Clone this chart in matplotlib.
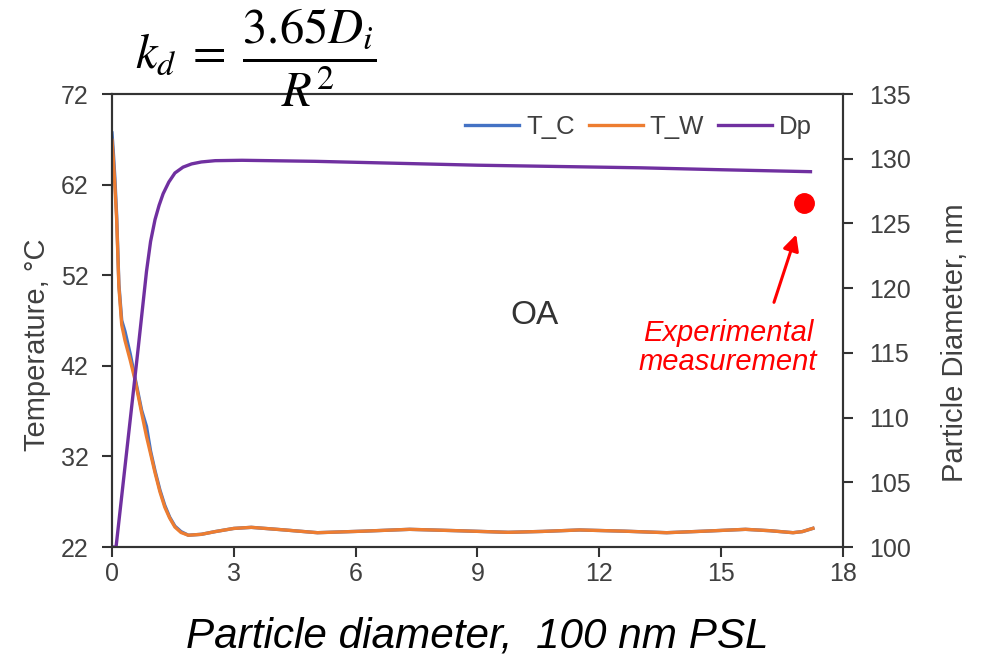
import matplotlib
matplotlib.use("Agg")
import matplotlib.pyplot as plt

# readings
t_x = [0, 0.03, 0.07, 0.115, 0.17, 0.24, 0.32, 0.45, 0.57, 0.73, 0.85, 0.95, 1.06,
       1.18, 1.3, 1.42, 1.55, 1.7, 1.88, 2.2, 2.54, 3.0, 3.43, 4.2, 5.06, 6.2, 7.33,
       8.5, 9.76, 10.6, 11.51, 12.6, 13.66, 14.6, 15.6, 16.2, 16.77, 17.0, 17.26]
t_c = [67.7, 65.8, 62.8, 58.6, 51.0, 47.0, 45.8, 43.3, 40.6, 37.1, 35.3, 32.6, 30.4,
       28.3, 26.6, 25.3, 24.3, 23.7, 23.3, 23.4, 23.7, 24.05, 24.17, 23.9, 23.58, 23.75, 23.95,
       23.8, 23.62, 23.72, 23.88, 23.75, 23.58, 23.75, 23.95, 23.8, 23.58, 23.7, 24.06]
t_w = [66.9, 65.0, 62.0, 58.1, 50.7, 46.5, 44.8, 42.6, 40.4, 36.8, 34.2, 32.3, 30.2,
       28.1, 26.4, 25.2, 24.2, 23.6, 23.3, 23.4, 23.7, 24.05, 24.17, 23.9, 23.58, 23.75, 23.95,
       23.8, 23.62, 23.72, 23.88, 23.75, 23.58, 23.75, 23.95, 23.8, 23.58, 23.7, 24.06]
dp_x = [0, 0.1, 0.65, 0.85, 0.95, 1.06, 1.16, 1.26, 1.4, 1.55, 1.75, 1.96, 2.2, 2.54,
        3.2, 5, 7, 9, 11, 13, 15, 17.2]
dp = [100, 100, 115.5, 121.3, 123.6, 125.3, 126.4, 127.3, 128.2, 128.9, 129.35, 129.6,
      129.75, 129.85, 129.88, 129.8, 129.65, 129.5, 129.4, 129.3, 129.15, 129.0]
exp_x = [17.04]
exp_dp = [126.6]

x_ticks = [0, 3, 6, 9, 12, 15, 18]
t_ticks = [22, 32, 42, 52, 62, 72]
d_ticks = [100, 105, 110, 115, 120, 125, 130, 135]

plt.rcParams["font.family"] = ["Liberation Sans", "DejaVu Sans"]
plt.rcParams["mathtext.fontset"] = "stix"
txt_col = "#404040"

fig = plt.figure(figsize=(9.99, 6.64), dpi=100)
ax = fig.add_axes([0.1121, 0.1762, 0.7317, 0.6822])
ax2 = ax.twinx()

l1, = ax.plot(t_x, t_c, color="#4472C4", lw=2.4, label="T_C")
l2, = ax.plot(t_x, t_w, color="#ED7D31", lw=2.4, label="T_W")
l3, = ax2.plot(dp_x, dp, color="#7030A0", lw=2.4, label="Dp")
ax2.plot(exp_x, exp_dp, "o", color="red", ms=14)

ax.set_xlim(0, 18)
ax.set_ylim(22, 72)
ax2.set_ylim(100, 135)
ax.set_xticks(x_ticks)
ax.set_yticks(t_ticks)
ax2.set_yticks(d_ticks)

for a in (ax, ax2):
    a.tick_params(labelsize=18, colors="#333333", labelcolor=txt_col,
                  length=7, width=1.5, direction="out")
    for s in a.spines.values():
        s.set_linewidth(1.5)
        s.set_color("#333333")
ax.tick_params(axis="y", pad=10)
ax2.tick_params(axis="y", pad=12)

fig.text(0.037, 0.4804, "Temperature, °C", fontsize=21, color=txt_col,
         rotation=90, ha="center", va="center")
fig.text(0.956, 0.4834, "Particle Diameter, nm", fontsize=21, color=txt_col,
         rotation=90, ha="center", va="center")

ax.legend(handles=[l1, l2, l3], ncol=3, frameon=False, loc="center right",
          fontsize=18.5, handlelength=2.1, columnspacing=0.55, handletextpad=0.27,
          borderpad=0, borderaxespad=0, bbox_to_anchor=(0.958, 0.927),
          labelcolor=txt_col)

ax.text(0.5787, 0.512, "OA", transform=ax.transAxes, fontsize=24, color="#333333",
        ha="center", va="center")

ax2.annotate("", xy=(16.87, 124.35), xytext=(16.28, 118.7),
             arrowprops=dict(arrowstyle="-|>", color="red", lw=2.2, mutation_scale=24))
ax.text(0.8427, 0.4404, "Experimental\nmeasurement", transform=ax.transAxes,
        color="red", fontsize=21, style="italic", ha="center", va="center",
        linespacing=1.05)

fig.text(0.2563, 0.914, r"$k_d\;=\;\dfrac{3.65D_i}{R^2}$", fontsize=35,
         ha="center", va="center")
fig.text(0.478, 0.041, "Particle diameter,  100 nm PSL", fontsize=30.4,
         style="italic", ha="center", va="center")

fig.savefig("out.png", dpi=100)
